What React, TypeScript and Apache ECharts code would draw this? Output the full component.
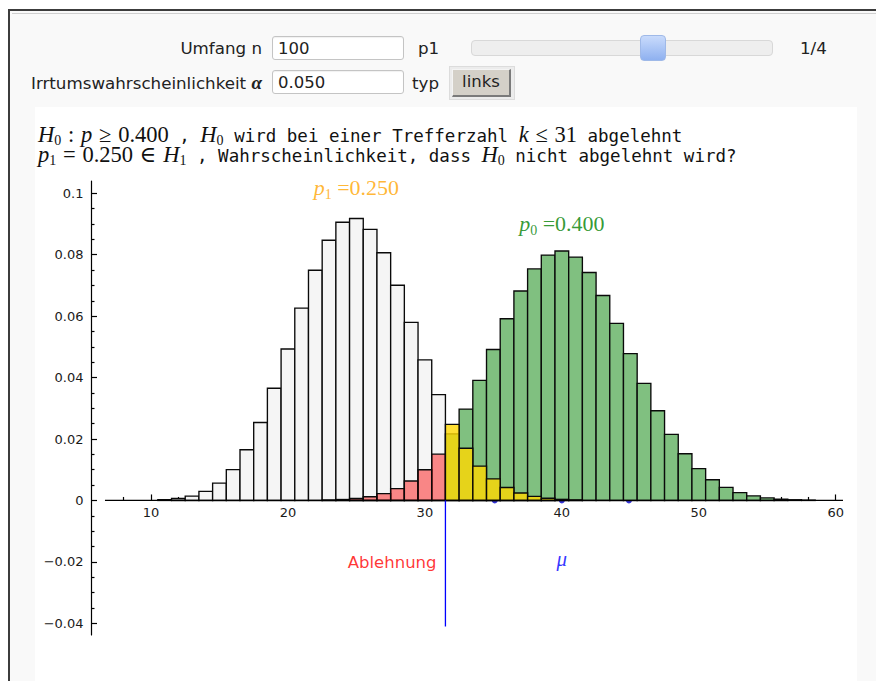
import React, { useEffect, useRef } from 'react';
import * as echarts from 'echarts';

// Binomial probabilities (n = 100)
const P1_START_K = 11; // p1 = 0.25, k = 11..41
const p1Values = [
  0.000256, 0.000634, 0.001431, 0.002963, 0.005663, 0.01003, 0.01652, 0.02538, 0.03652, 0.0493,
  0.0626, 0.07493, 0.0847, 0.09058, 0.09179, 0.08826, 0.08063, 0.07007, 0.05799, 0.04575,
  0.03443, 0.02475, 0.017, 0.01117, 0.00702, 0.00422, 0.00244, 0.00135, 0.000714, 0.000363,
  0.000177,
];
const P0_START_K = 23; // p0 = 0.40, k = 23..58
const p0Values = [
  0.000145, 0.00031, 0.000628, 0.001207, 0.002205, 0.003833, 0.006344, 0.01001, 0.01507, 0.02166,
  0.02975, 0.03908, 0.04913, 0.05914, 0.0682, 0.07538, 0.07989, 0.08122, 0.07924, 0.07421,
  0.06673, 0.05763, 0.04781, 0.03811, 0.02919, 0.02149, 0.0152, 0.01034, 0.006757, 0.004245,
  0.002563, 0.001487, 0.000829, 0.000444, 0.000229, 0.000113,
];
const CRITICAL_K = 31; // H0 rejected for k <= 31
const sigmaMarks = [35.1, 40, 44.9]; // mu - sigma, mu, mu + sigma
const xMajorTicks = [10, 20, 30, 40, 50, 60];
const xMinorTicks = [8, 12, 14, 16, 18, 22, 24, 26, 28, 32, 34, 36, 38, 42, 44, 46, 48, 52, 54, 56, 58];
const yMajorTicks = [-0.04, -0.02, 0, 0.02, 0.04, 0.06, 0.08, 0.1];
const yMinorTicks = [
  -0.035, -0.03, -0.025, -0.015, -0.01, -0.005, 0.005, 0.01, 0.015, 0.025, 0.03, 0.035,
  0.045, 0.05, 0.055, 0.065, 0.07, 0.075, 0.085, 0.09, 0.095,
];
const X_RANGE = [5.62, 60.53];
const Y_RANGE = [-0.0438, 0.104];
const X_AXIS_LINE = [6.64, 60.53];
const BOUNDARY_LINE_BOTTOM = -0.041;

const p1Pts = p1Values.map((v, i) => [P1_START_K + i, v]);
const p0Pts = p0Values.map((v, i) => [P0_START_K + i, v]);
const whiteData = p1Pts.filter((d) => d[0] <= CRITICAL_K);
const yellowData = p1Pts.filter((d) => d[0] > CRITICAL_K);
const redData = p0Pts.filter((d) => d[0] <= CRITICAL_K);
const greenData = p0Pts.filter((d) => d[0] > CRITICAL_K);

const SERIF = '"Liberation Serif", "DejaVu Serif", serif';
const SANS = '"DejaVu Sans", sans-serif';
const MONO = '"DejaVu Sans Mono", monospace';

// plot area in page pixels
const GRID_LEFT = 91;
const GRID_TOP = 181;
const GRID_W = 752;
const GRID_H = 454;
// pixel height from the top of the plot down to y = 0 (x-axis row)
const ZERO_OFFSET = (GRID_H * Y_RANGE[1]) / (Y_RANGE[1] - Y_RANGE[0]);

function barSeries(name: string, data: number[][], fill: string, z: number) {
  return {
    name,
    type: 'custom',
    z,
    data,
    encode: { x: 0, y: 1 },
    renderItem: (params: any, api: any) => {
      const k = api.value(0);
      const p = api.value(1);
      const a = api.coord([k - 0.5, p]);
      const b = api.coord([k + 0.5, 0]);
      return {
        type: 'rect',
        shape: { x: a[0], y: a[1], width: b[0] - a[0], height: b[1] - a[1] },
        style: { fill, stroke: '#0a0a0a', lineWidth: 1.35 },
      };
    },
  };
}

function pLabel(sub: string, val: string, color: string) {
  return {
    show: true,
    position: 'inside',
    align: 'center',
    verticalAlign: 'middle',
    formatter: `{i|p}{s|${sub}}{n| =${val}}`,
    rich: {
      i: { fontFamily: SERIF, fontStyle: 'italic', fontSize: 22, color },
      s: { fontFamily: SERIF, fontSize: 14, color, verticalAlign: 'bottom', lineHeight: 28 },
      n: { fontFamily: SERIF, fontSize: 22, color },
    },
  };
}

function Chart() {
  const ref = useRef<HTMLDivElement>(null);
  useEffect(() => {
    if (!ref.current) return;
    const chart = echarts.init(ref.current, undefined, { renderer: 'svg' });
    const tickLine = { color: '#000', width: 1.2 };
    const labelStyle = { fontFamily: SANS, fontSize: 13, color: '#1a1a1a' };
    chart.setOption({
      animation: false,
      grid: [
        { left: GRID_LEFT, top: GRID_TOP, width: GRID_W, height: GRID_H, containLabel: false },
        // x-axis row: its bottom edge sits on y = 0 of the main plot
        { left: GRID_LEFT, top: GRID_TOP, width: GRID_W, height: ZERO_OFFSET, containLabel: false },
      ],
      xAxis: [
        {
          gridIndex: 0, type: 'value', min: X_RANGE[0], max: X_RANGE[1], show: false,
        },
        {
          gridIndex: 1, type: 'value', min: X_RANGE[0], max: X_RANGE[1], position: 'bottom',
          axisLine: { show: false, onZero: false },
          splitLine: { show: false },
          axisTick: { show: true, inside: true, length: 6, customValues: xMajorTicks, lineStyle: tickLine },
          axisLabel: { ...labelStyle, margin: 6, customValues: xMajorTicks },
        },
        {
          gridIndex: 1, type: 'value', min: X_RANGE[0], max: X_RANGE[1], position: 'bottom',
          axisLine: { show: false, onZero: false },
          splitLine: { show: false },
          axisTick: { show: true, inside: true, length: 3.5, customValues: xMinorTicks, lineStyle: tickLine },
          axisLabel: { show: false },
        },
      ],
      yAxis: [
        {
          gridIndex: 0, type: 'value', min: Y_RANGE[0], max: Y_RANGE[1],
          axisLine: { show: true, onZero: false, lineStyle: { color: '#000', width: 1.2 } },
          splitLine: { show: false },
          axisTick: { show: true, inside: true, length: 6, customValues: yMajorTicks, lineStyle: tickLine },
          axisLabel: {
            ...labelStyle, margin: 7.5, customValues: yMajorTicks,
            formatter: (v: number) => String(Math.round(v * 1000) / 1000).replace('-', '\u2212'),
          },
        },
        {
          gridIndex: 0, type: 'value', min: Y_RANGE[0], max: Y_RANGE[1], position: 'left',
          axisLine: { show: false, onZero: false },
          splitLine: { show: false },
          axisTick: { show: true, inside: true, length: 3.5, customValues: yMinorTicks, lineStyle: tickLine },
          axisLabel: { show: false },
        },
        { gridIndex: 1, type: 'value', min: 0, max: 1, show: false },
      ],
      series: [
        {
          type: 'scatter', z: 1, symbol: 'circle', symbolSize: 6,
          itemStyle: { color: '#0000d0' },
          data: sigmaMarks.map((x) => [x, 0]),
        },
        barSeries('white', whiteData, '#f5f5f5', 2),
        barSeries('green', greenData, '#80c080', 2),
        barSeries('red', redData, 'rgba(255,0,0,0.45)', 3),
        barSeries('yellow', yellowData, 'rgba(255,215,0,0.8)', 3),
        {
          type: 'line', z: 4, symbol: 'none', silent: true,
          lineStyle: { color: '#000', width: 1.2 },
          data: X_AXIS_LINE.map((x) => [x, 0]),
        },
        {
          type: 'line', z: 5, symbol: 'none', silent: true,
          lineStyle: { color: '#0000ff', width: 1.3 },
          data: [[CRITICAL_K + 0.5, 0], [CRITICAL_K + 0.5, BOUNDARY_LINE_BOTTOM]],
        },
        {
          type: 'scatter', z: 6, symbolSize: 0, silent: true,
          data: [
            { value: [25, 0.1018], label: pLabel('1', '0.250', '#ffa500') },
            { value: [40, 0.0903], label: pLabel('0', '0.400', '#008000') },
            {
              value: [30.85, -0.0202],
              label: {
                show: true, position: [0, 0], align: 'right', verticalAlign: 'middle',
                formatter: 'Ablehnung', fontFamily: SANS, fontSize: 16.5, color: '#ff0000',
              },
            },
            {
              value: [40, -0.0192],
              label: {
                show: true, position: [0, 0], align: 'center', verticalAlign: 'middle',
                formatter: 'μ', fontFamily: SERIF, fontStyle: 'italic', fontSize: 21, color: '#0000ff',
              },
            },
          ],
        },
      ],
    });
    return () => chart.dispose();
  }, []);
  return (
    <div
      ref={ref}
      style={{ position: 'fixed', left: 0, top: 0, width: 876, height: 681, zIndex: 2, pointerEvents: 'none' }}
    />
  );
}

const I = ({ children }: { children: React.ReactNode }) => (
  <span style={{ fontStyle: 'italic' }}>{children}</span>
);
const Sub = ({ children }: { children: React.ReactNode }) => (
  <span style={{ fontSize: 14, position: 'relative', top: 3 }}>{children}</span>
);
const Rel = ({ children }: { children: React.ReactNode }) => (
  <span style={{ margin: '0 0.3em' }}>{children}</span>
);
const M = ({ children }: { children: React.ReactNode }) => (
  <span style={{ fontFamily: SERIF, fontSize: 22.5 }}>{children}</span>
);
const T = ({ children }: { children: React.ReactNode }) => (
  <span style={{ fontFamily: MONO, fontSize: 17.5 }}>{children}</span>
);

const inputStyle: React.CSSProperties = {
  position: 'absolute', width: 132, height: 24, boxSizing: 'border-box', background: '#fff',
  border: '1px solid #c4c4c4', borderRadius: 3, fontFamily: SANS, fontSize: 16.5, color: '#222',
  padding: '1px 0 0 5px', lineHeight: '21px', boxShadow: 'inset 0 1px 1px rgba(0,0,0,0.06)',
};
const labelStyle: React.CSSProperties = {
  position: 'absolute', fontFamily: SANS, fontSize: 16.7, color: '#222', lineHeight: '20px', whiteSpace: 'pre',
};

export default function App() {
  return (
    <div style={{ position: 'fixed', left: 0, top: 0, width: 876, height: 681, background: '#fff', overflow: 'hidden' }}>
      <div
        style={{
          position: 'absolute', left: 8, top: 9, width: 900, height: 700, background: '#f9f9f9',
          borderTop: '2px solid #3c3c3c', borderLeft: '2px solid #3c3c3c',
        }}
      />
      <div style={{ position: 'absolute', left: 12, top: 13, width: 900, height: 1, background: '#cfcfcf' }} />
      {/* controls row 1 */}
      <div style={{ ...labelStyle, left: 0, width: 262, textAlign: 'right', top: 38 }}>Umfang n</div>
      <div style={{ ...inputStyle, left: 272, top: 36 }}>100</div>
      <div style={{ ...labelStyle, left: 418, top: 38 }}>p1</div>
      <div
        style={{
          position: 'absolute', left: 471, top: 40, width: 302, height: 16, boxSizing: 'border-box',
          background: '#eeeeee', border: '1px solid #d8d8d8', borderRadius: 4,
        }}
      />
      <div
        style={{
          position: 'absolute', left: 640, top: 35, width: 26, height: 26, boxSizing: 'border-box',
          background: 'linear-gradient(#c9dbfc, #8fb1f0)', border: '1px solid #9fb9e8', borderRadius: 4,
        }}
      />
      <div style={{ ...labelStyle, left: 800, top: 38 }}>1/4</div>
      {/* controls row 2 */}
      <div style={{ ...labelStyle, left: 0, width: 262, textAlign: 'right', top: 73 }}>
        Irrtumswahrscheinlichkeit{' '}
        <span style={{ fontFamily: SERIF, fontStyle: 'italic', fontWeight: 'bold', fontSize: 19 }}>α</span>
      </div>
      <div style={{ ...inputStyle, left: 272, top: 70 }}>0.050</div>
      <div style={{ ...labelStyle, left: 412, top: 73 }}>typ</div>
      <div
        style={{
          position: 'absolute', left: 449, top: 66, width: 66, height: 34, boxSizing: 'border-box',
          background: '#ececec', border: '1px solid #dcdcdc',
        }}
      />
      <div
        style={{
          position: 'absolute', left: 452, top: 69, width: 59, height: 28, boxSizing: 'border-box',
          background: '#d4d0c8', borderTop: '1px solid #f4f4f4', borderLeft: '1px solid #f4f4f4',
          borderRight: '2px solid #7a7a7a', borderBottom: '2px solid #7a7a7a',
          fontFamily: SANS, fontSize: 16.5, color: '#222', textAlign: 'center', lineHeight: '24px',
        }}
      >
        links
      </div>
      {/* output panel */}
      <div style={{ position: 'absolute', left: 35, top: 107, width: 822, height: 600, background: '#fff' }} />
      <div style={{ position: 'absolute', left: 38, top: 125, whiteSpace: 'pre', lineHeight: '20px', color: '#111' }}>
        <div style={{ height: 20 }}>
          <M><I>H</I><Sub>0</Sub><Rel>:</Rel><I>p</I><Rel>≥</Rel>0.400</M>
          <T> , </T>
          <M><I>H</I><Sub>0</Sub></M>
          <T> wird bei einer Trefferzahl </T>
          <M><I>k</I><Rel>≤</Rel>31</M>
          <T> abgelehnt</T>
        </div>
        <div style={{ height: 20 }}>
          <M><I>p</I><Sub>1</Sub><Rel>=</Rel>0.250<Rel>∈</Rel><I>H</I><Sub>1</Sub></M>
          <T> , Wahrscheinlichkeit, dass </T>
          <M><I>H</I><Sub>0</Sub></M>
          <T> nicht abgelehnt wird?</T>
        </div>
      </div>
      <Chart />
    </div>
  );
}
